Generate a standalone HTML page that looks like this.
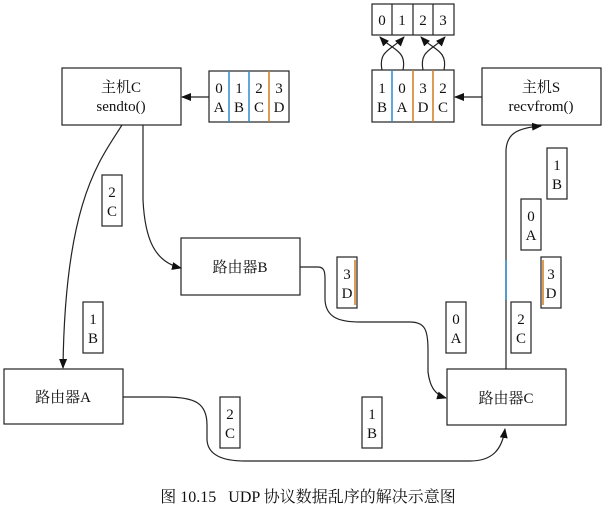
<!DOCTYPE html>
<html><head><meta charset="utf-8"><style>
body{margin:0;background:#fff}
svg text{font-family:"Liberation Serif","Noto Serif CJK SC",serif;fill:#111}
</style></head><body>
<svg width="608" height="511" viewBox="0 0 608 511" xmlns="http://www.w3.org/2000/svg">
<defs><marker id="a" markerWidth="10" markerHeight="8" refX="9" refY="4" orient="auto" markerUnits="userSpaceOnUse"><path d="M0,0 L10,4 L0,8 z" fill="#111"/></marker></defs>
<g fill="none" stroke="#222" stroke-width="1.2">
<rect x="62" y="68" width="119" height="57"/>
<rect x="482" y="68" width="119" height="57"/>
<rect x="181" y="238" width="119" height="57"/>
<rect x="4" y="369" width="119" height="55"/>
<rect x="447" y="369" width="119" height="56"/>
<rect x="209" y="71" width="80" height="51"/>
<rect x="372" y="70" width="82" height="52"/>
<rect x="372" y="4" width="82" height="31"/>
<line x1="392" y1="4" x2="392" y2="35"/><line x1="413" y1="4" x2="413" y2="35"/><line x1="433" y1="4" x2="433" y2="35"/>
<rect x="102" y="175" width="20" height="51"/>
<rect x="83" y="302" width="20" height="51"/>
<rect x="337" y="257" width="20" height="51"/>
<rect x="446" y="302" width="20" height="51"/>
<rect x="511" y="302" width="20" height="51"/>
<rect x="547" y="148" width="20" height="51"/>
<rect x="521" y="199" width="20" height="51"/>
<rect x="541" y="257" width="20" height="51"/>
<rect x="220" y="397" width="20" height="51"/>
<rect x="362" y="397" width="20" height="51"/>
<line x1="209" y1="97" x2="182" y2="97" marker-end="url(#a)"/>
<line x1="482" y1="97" x2="455" y2="97" marker-end="url(#a)"/>
<path d="M122,125 C100,160 65,200 63,368" marker-end="url(#a)"/>
<path d="M143,125 L143,200 C145,240 155,262 181,268" marker-end="url(#a)"/>
<path d="M300,267 L318,267 C326,267 325,275 325,285 L325,300 C326,318 340,322 360,322 L410,322 C425,322 428,330 428,350 L428,372 C430,388 436,395 446,398" marker-end="url(#a)"/>
<path d="M123,397 L165,397 C195,397 207,403 207,425 L207,440 C208,455 222,461 245,461 L470,461 C492,461 502,450 505,429" marker-end="url(#a)"/>
<path d="M506,369 L506,150 C507,135 515,128 541,126" marker-end="url(#a)"/>
<path d="M382,70 C378,50 392,50 404,37" marker-end="url(#a)"/>
<path d="M403,70 C407,50 392,50 380,37" marker-end="url(#a)"/>
<path d="M423,70 C419,50 433,50 445,37" marker-end="url(#a)"/>
<path d="M444,70 C448,50 433,50 421,37" marker-end="url(#a)"/>
</g>
<g stroke-width="1.5">
<line x1="229" y1="71" x2="229" y2="122" stroke="#2a8ad0"/><line x1="249" y1="71" x2="249" y2="122" stroke="#2a8ad0"/><line x1="269" y1="71" x2="269" y2="122" stroke="#d07a20"/>
<line x1="392" y1="70" x2="392" y2="122" stroke="#2a8ad0"/><line x1="413" y1="70" x2="413" y2="122" stroke="#d07a20"/><line x1="433" y1="70" x2="433" y2="122" stroke="#d07a20"/>
<line x1="355" y1="260" x2="355" y2="305" stroke="#d07a20"/>
<line x1="543" y1="260" x2="543" y2="305" stroke="#d07a20"/>
<line x1="506" y1="260" x2="506" y2="300" stroke="#2a8ad0"/>
</g>
<g font-size="15" text-anchor="middle">
<text x="121" y="92">主机C</text><text x="121" y="111">sendto()</text>
<text x="541" y="92">主机S</text><text x="541" y="111">recvfrom()</text>
<text x="240" y="272">路由器B</text>
<text x="63" y="402">路由器A</text>
<text x="506" y="403">路由器C</text>
<text x="219" y="93">0</text><text x="219" y="112">A</text>
<text x="239" y="93">1</text><text x="239" y="112">B</text>
<text x="259" y="93">2</text><text x="259" y="112">C</text>
<text x="279" y="93">3</text><text x="279" y="112">D</text>
<text x="382" y="93">1</text><text x="382" y="112">B</text>
<text x="402" y="93">0</text><text x="402" y="112">A</text>
<text x="423" y="93">3</text><text x="423" y="112">D</text>
<text x="443" y="93">2</text><text x="443" y="112">C</text>
<text x="382" y="25">0</text><text x="402" y="25">1</text><text x="423" y="25">2</text><text x="443" y="25">3</text>
<text x="112" y="197">2</text><text x="112" y="216">C</text>
<text x="93" y="324">1</text><text x="93" y="343">B</text>
<text x="347" y="279">3</text><text x="347" y="298">D</text>
<text x="456" y="324">0</text><text x="456" y="343">A</text>
<text x="521" y="324">2</text><text x="521" y="343">C</text>
<text x="557" y="170">1</text><text x="557" y="189">B</text>
<text x="531" y="221">0</text><text x="531" y="240">A</text>
<text x="551" y="279">3</text><text x="551" y="298">D</text>
<text x="230" y="419">2</text><text x="230" y="438">C</text>
<text x="372" y="419">1</text><text x="372" y="438">B</text>
</g>
<text x="308" y="502" font-size="16" text-anchor="middle" xml:space="preserve">图 10.15   UDP 协议数据乱序的解决示意图</text>
</svg>
</body></html>
